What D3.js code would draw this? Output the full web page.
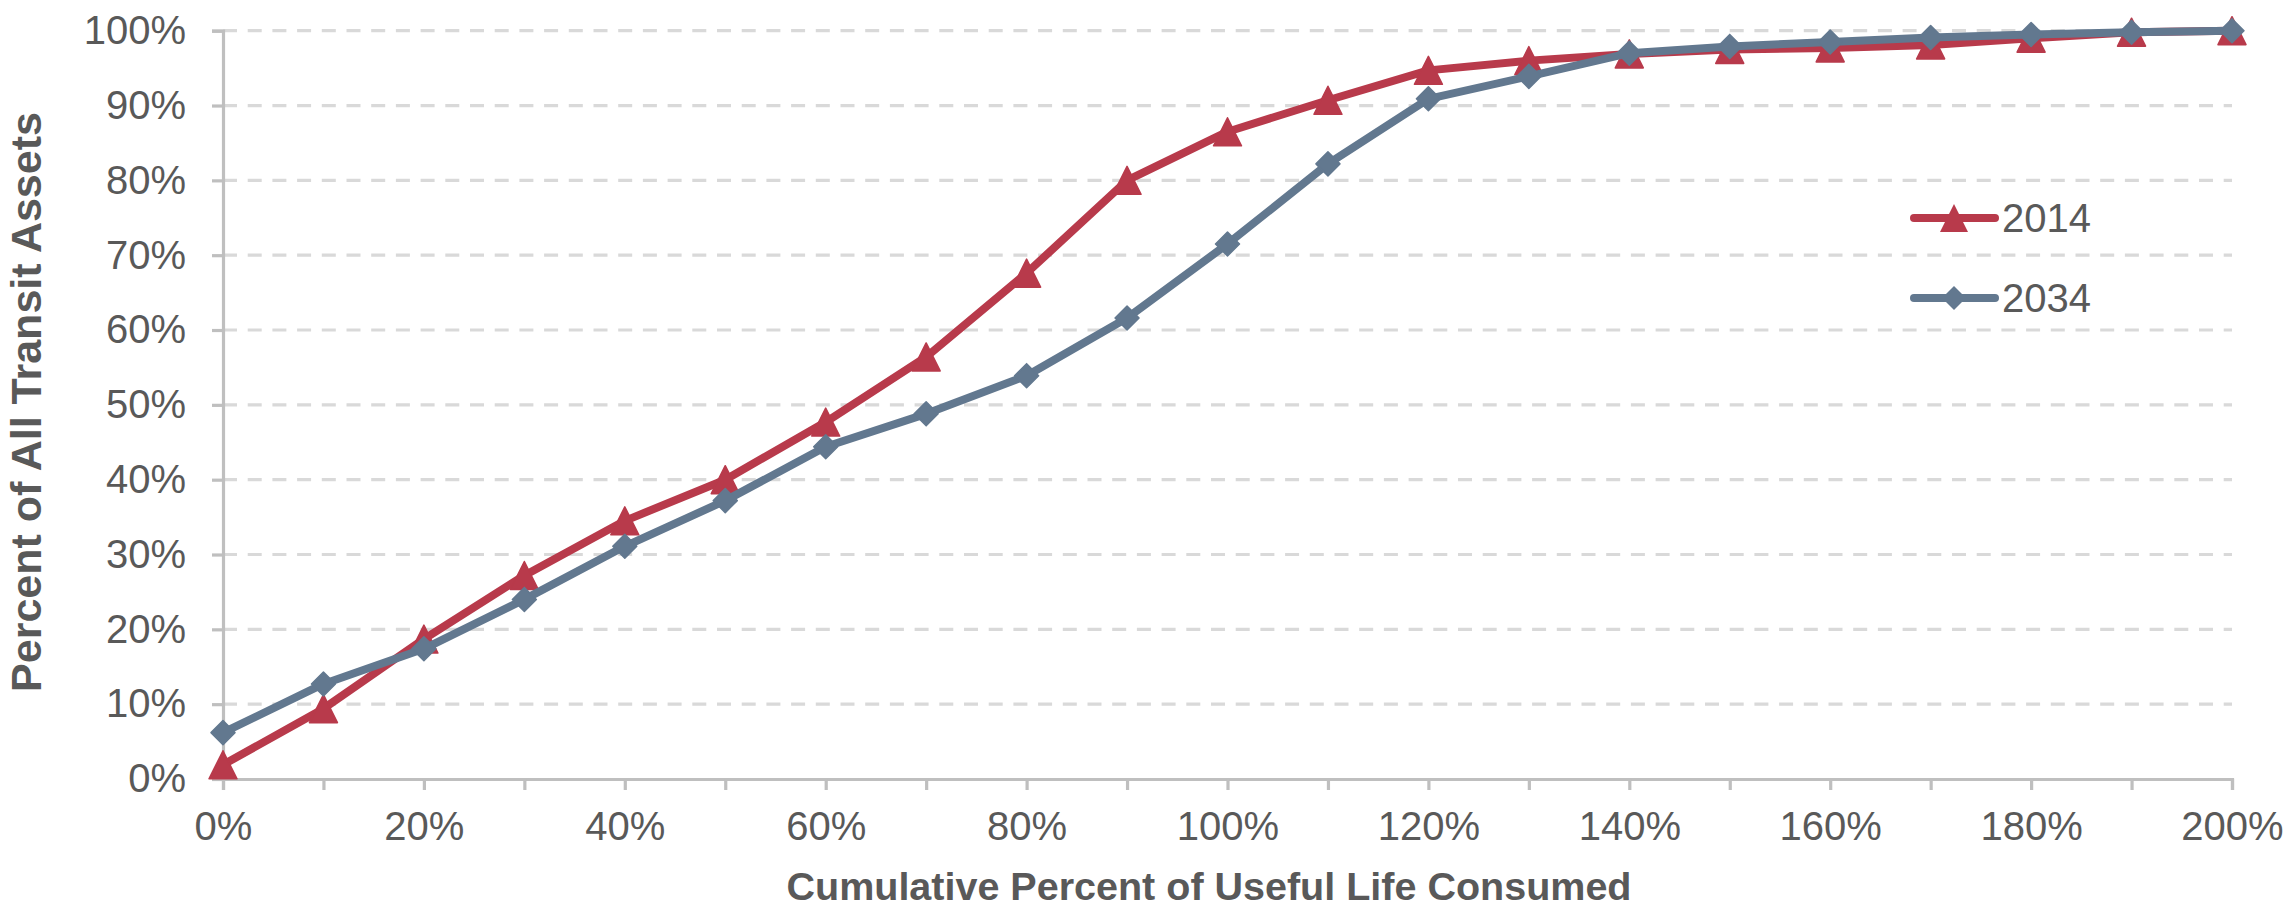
<!DOCTYPE html>
<html lang="en">
  <head>
    <meta charset="UTF-8" />
    <script src="https://d3js.org/d3.v7.min.js"></script>
    <style>
      body { margin: 0; background: #fff; }
      text { font-family: "Liberation Sans", Arial, sans-serif; fill: #595959; }
    </style>
  </head>
  <body>
    <svg id="chart" width="2292" height="912"></svg>
    <script>
      // data
      const lifeConsumed = [0, 10, 20, 30, 40, 50, 60, 70, 80, 90, 100, 110, 120, 130, 140, 150, 160, 170, 180, 190, 200];
      const assets2014 = [1.9, 9.4, 18.7, 27.2, 34.5, 40.0, 47.7, 56.4, 67.6, 80.0, 86.5, 90.7, 94.7, 96.0, 96.9, 97.5, 97.7, 98.1, 99.0, 99.8, 100];
      const assets2034 = [6.2, 12.7, 17.4, 24.0, 31.1, 37.2, 44.4, 48.8, 53.9, 61.6, 71.5, 82.2, 90.9, 93.9, 97.0, 97.9, 98.5, 99.1, 99.5, 99.8, 100];
      const xTicks = [0, 20, 40, 60, 80, 100, 120, 140, 160, 180, 200];
      const yTicks = [0, 10, 20, 30, 40, 50, 60, 70, 80, 90, 100];
      const seriesNames = ["2014", "2034"];

      const svg = d3.select("#chart");
      const plotL = 223, plotR = 2232, plotT = 30.7, plotB = 779;

      const x = d3.scaleLinear().domain([0, 200]).range([plotL, plotR]);
      const y = d3.scaleLinear().domain([0, 100]).range([plotB, plotT]);

      const axisColor = "#bfbfbf";
      const red = "#b83a4b", blue = "#62788f";

      // dashed gridlines
      svg.append("g")
        .selectAll("line")
        .data(yTicks.filter(d => d > 0))
        .join("line")
        .attr("x1", plotL).attr("x2", plotR)
        .attr("y1", d => y(d)).attr("y2", d => y(d))
        .attr("stroke", "#d9d9d9")
        .attr("stroke-width", 3.2)
        .attr("stroke-dasharray", "14 10.7");

      // y axis
      const yAxis = svg.append("g")
        .attr("transform", `translate(${plotL},0)`)
        .call(d3.axisLeft(y).tickValues(yTicks).tickSize(11).tickPadding(26).tickFormat(d => d + "%"));
      yAxis.select(".domain").attr("stroke", axisColor).attr("stroke-width", 3.2);
      yAxis.selectAll(".tick line").attr("stroke", axisColor).attr("stroke-width", 3.2);
      yAxis.selectAll("text").attr("font-size", 40).attr("fill", "#595959")
        .attr("font-family", "Liberation Sans, Arial, sans-serif");

      // x axis (ticks every 10, labels every 20)
      const xAxis = svg.append("g")
        .attr("transform", `translate(0,${plotB})`)
        .call(d3.axisBottom(x).tickValues(lifeConsumed).tickSize(11).tickPadding(22)
          .tickFormat(d => xTicks.includes(d) ? d + "%" : ""));
      xAxis.select(".domain").attr("stroke", axisColor).attr("stroke-width", 3.2);
      xAxis.selectAll(".tick line").attr("stroke", axisColor).attr("stroke-width", 3.2);
      xAxis.selectAll("text").attr("font-size", 40).attr("fill", "#595959")
        .attr("font-family", "Liberation Sans, Arial, sans-serif");

      // titles
      svg.append("text")
        .attr("x", 1209).attr("y", 900)
        .attr("text-anchor", "middle")
        .attr("font-size", 39.5).attr("font-weight", "bold")
        .text("Cumulative Percent of Useful Life Consumed");
      svg.append("text")
        .attr("transform", "translate(41,402) rotate(-90)")
        .attr("text-anchor", "middle")
        .attr("font-size", 43).attr("font-weight", "bold")
        .text("Percent of All Transit Assets");

      // Excel-style markers: triangle as wide as tall, square-ish diamond
      const triangle = {
        draw(ctx, size) {
          const h = Math.sqrt(size);
          ctx.moveTo(0, -h / 2);
          ctx.lineTo(h / 2, h / 2);
          ctx.lineTo(-h / 2, h / 2);
          ctx.closePath();
        }
      };
      const diamond = {
        draw(ctx, size) {
          const h = Math.sqrt(size) / 2;
          ctx.moveTo(0, -h);
          ctx.lineTo(h, 0);
          ctx.lineTo(0, h);
          ctx.lineTo(-h, 0);
          ctx.closePath();
        }
      };

      const line = d3.line().x((d, i) => x(lifeConsumed[i])).y(d => y(d));
      const tri = d3.symbol().type(triangle).size(28 * 28);
      const dia = d3.symbol().type(diamond).size(24 * 24);

      const series = [
        { name: seriesNames[0], values: assets2014, color: red, sym: tri },
        { name: seriesNames[1], values: assets2034, color: blue, sym: dia }
      ];

      series.forEach(s => {
        const g = svg.append("g");
        g.append("path")
          .attr("d", line(s.values))
          .attr("fill", "none")
          .attr("stroke", s.color)
          .attr("stroke-width", 8)
          .attr("stroke-linejoin", "round")
          .attr("stroke-linecap", "round");
        g.selectAll("path.m")
          .data(s.values)
          .join("path")
          .attr("class", "m")
          .attr("transform", (d, i) => `translate(${x(lifeConsumed[i])},${y(d)})`)
          .attr("d", s.sym)
          .attr("fill", s.color)
          .attr("stroke", s.color)
          .attr("stroke-width", 1.5)
          .attr("stroke-linejoin", "round");
      });

      // legend
      const legend = svg.append("g");
      series.forEach((s, i) => {
        const ly = 218 + i * 80;
        legend.append("line")
          .attr("x1", 1914).attr("x2", 1995).attr("y1", ly).attr("y2", ly)
          .attr("stroke", s.color).attr("stroke-width", 8).attr("stroke-linecap", "round");
        legend.append("path")
          .attr("transform", `translate(1954,${ly})`)
          .attr("d", s.sym).attr("fill", s.color);
        legend.append("text")
          .attr("x", 2002).attr("y", ly + 14)
          .attr("font-size", 40)
          .text(s.name);
      });
    </script>
  </body>
</html>
